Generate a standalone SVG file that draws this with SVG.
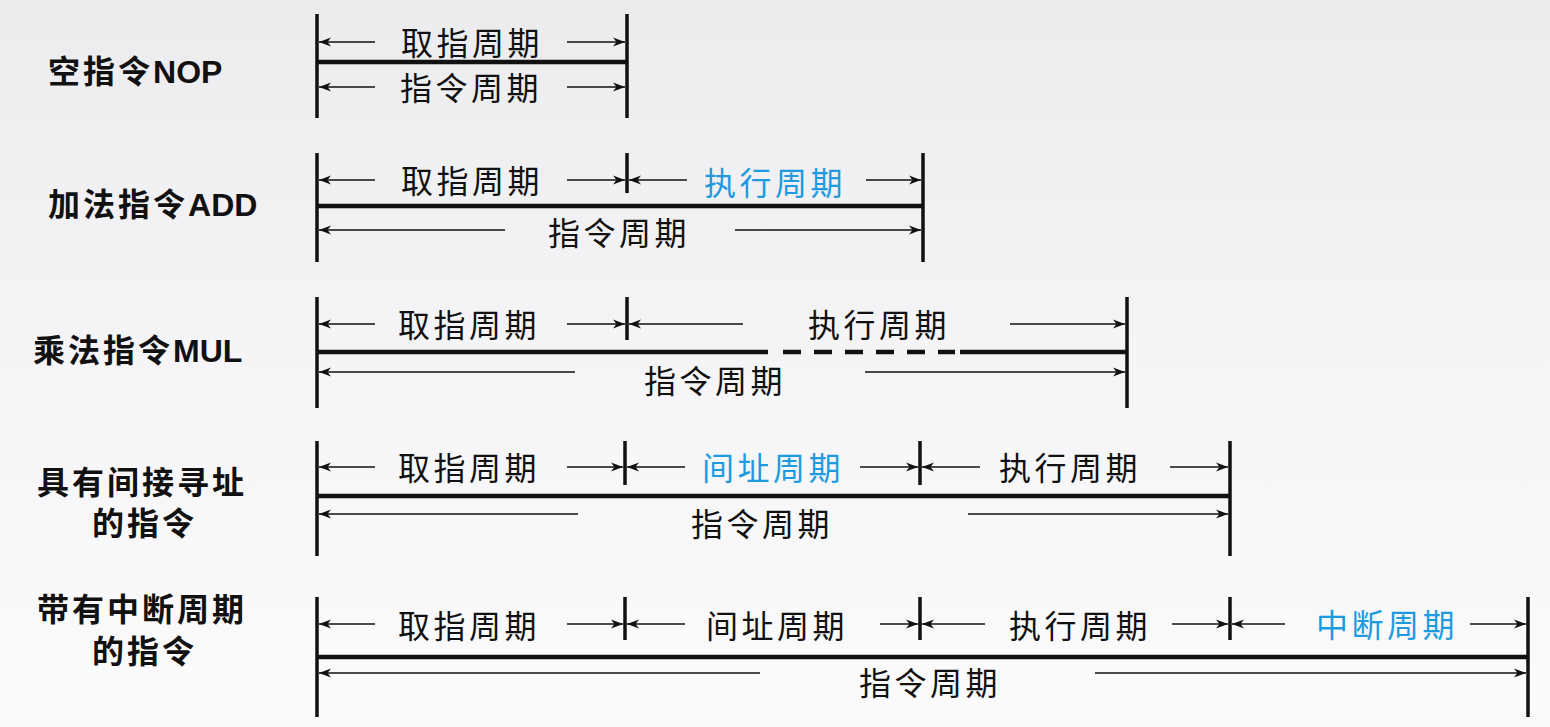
<svg xmlns="http://www.w3.org/2000/svg" width="1550" height="727" viewBox="0 0 1550 727">
<defs>
<linearGradient id="bg" x1="0" y1="0" x2="0" y2="1">
<stop offset="0" stop-color="#ececee"/>
<stop offset="0.5" stop-color="#f5f5f7"/>
<stop offset="1" stop-color="#fbfbfc"/>
</linearGradient>
<marker id="ah" viewBox="0 0 12 10" refX="12" refY="5" markerWidth="12" markerHeight="10" markerUnits="userSpaceOnUse" orient="auto">
<path d="M0,0.5 L12,5 L0,9.5 L3.5,5 z" fill="#111"/>
</marker>
<style>
.lbl{font-family:"Liberation Sans","Noto Sans CJK SC",sans-serif;font-weight:bold;font-size:32px;fill:#111;letter-spacing:3px}
.lat{letter-spacing:0}
.t{font-family:"Noto Sans CJK SC",sans-serif;font-size:32px;fill:#111;text-anchor:middle;dominant-baseline:central;letter-spacing:3.5px}
.b{fill:#1e9be0}
.tick{stroke:#111;stroke-width:3.5}
.bar{stroke:#111;stroke-width:4.5}
.dash{stroke:#111;stroke-width:4.5;stroke-dasharray:18,13}
.ar{stroke:#111;stroke-width:1.6;fill:none;marker-end:url(#ah)}
</style>
</defs>
<rect width="1550" height="727" fill="url(#bg)"/>

<g id="row-nop">
<text class="lbl" x="48" y="83">空指令<tspan class="lat">NOP</tspan></text>
<line class="tick" x1="317" y1="14" x2="317" y2="118"/>
<line class="tick" x1="627" y1="14" x2="627" y2="118"/>
<line class="bar" x1="317" y1="62" x2="627" y2="62"/>
<text class="t" x="472" y="41">取指周期</text>
<text class="t" x="471" y="86">指令周期</text>
</g>

<g id="row-add">
<text class="lbl" x="48" y="216">加法指令<tspan class="lat">ADD</tspan></text>
<line class="tick" x1="317" y1="153" x2="317" y2="262"/>
<line class="tick" x1="627" y1="153" x2="627" y2="193"/>
<line class="tick" x1="923" y1="153" x2="923" y2="262"/>
<line class="bar" x1="317" y1="206" x2="923" y2="206"/>
<text class="t" x="472" y="179">取指周期</text>
<text class="t b" x="775" y="181">执行周期</text>
<text class="t" x="619" y="231">指令周期</text>
</g>

<g id="row-mul">
<text class="lbl" x="33" y="362">乘法指令<tspan class="lat">MUL</tspan></text>
<line class="tick" x1="317" y1="297" x2="317" y2="408"/>
<line class="tick" x1="627" y1="297" x2="627" y2="340"/>
<line class="tick" x1="1127" y1="297" x2="1127" y2="408"/>
<line class="bar" x1="317" y1="352" x2="768" y2="352"/>
<line class="dash" x1="783" y1="352" x2="955" y2="352"/>
<line class="bar" x1="960" y1="352" x2="1127" y2="352"/>
<text class="t" x="469" y="323">取指周期</text>
<text class="t" x="879" y="323">执行周期</text>
<text class="t" x="715" y="379">指令周期</text>
</g>

<g id="row-indirect">
<text class="lbl" x="37" y="494">具有间接寻址</text>
<text class="lbl" x="92" y="535">的指令</text>
<line class="tick" x1="317" y1="441" x2="317" y2="556"/>
<line class="tick" x1="625" y1="441" x2="625" y2="485"/>
<line class="tick" x1="920" y1="441" x2="920" y2="485"/>
<line class="tick" x1="1230" y1="441" x2="1230" y2="556"/>
<line class="bar" x1="317" y1="496" x2="1230" y2="496"/>
<text class="t" x="469" y="466">取指周期</text>
<text class="t b" x="773" y="466">间址周期</text>
<text class="t" x="1070" y="466">执行周期</text>
<text class="t" x="762" y="522">指令周期</text>
</g>

<g id="row-interrupt">
<text class="lbl" x="37" y="621">带有中断周期</text>
<text class="lbl" x="92" y="663">的指令</text>
<line class="tick" x1="317" y1="597" x2="317" y2="717"/>
<line class="tick" x1="625" y1="597" x2="625" y2="640"/>
<line class="tick" x1="920" y1="597" x2="920" y2="640"/>
<line class="tick" x1="1230" y1="597" x2="1230" y2="640"/>
<line class="tick" x1="1528" y1="597" x2="1528" y2="717"/>
<line class="bar" x1="317" y1="657" x2="1528" y2="657"/>
<text class="t" x="469" y="624">取指周期</text>
<text class="t" x="777" y="624">间址周期</text>
<text class="t" x="1080" y="624">执行周期</text>
<text class="t b" x="1387" y="623">中断周期</text>
<text class="t" x="930" y="681">指令周期</text>
</g>

<g id="connectors">
<line class="ar" x1="375" y1="42" x2="319" y2="42"/>
<line class="ar" x1="567" y1="42" x2="625" y2="42"/>
<line class="ar" x1="375" y1="87" x2="319" y2="87"/>
<line class="ar" x1="567" y1="87" x2="625" y2="87"/>

<line class="ar" x1="375" y1="180" x2="319" y2="180"/>
<line class="ar" x1="567" y1="180" x2="625" y2="180"/>
<line class="ar" x1="687" y1="180" x2="629" y2="180"/>
<line class="ar" x1="866" y1="180" x2="921" y2="180"/>
<line class="ar" x1="505" y1="230" x2="319" y2="230"/>
<line class="ar" x1="735" y1="230" x2="921" y2="230"/>

<line class="ar" x1="375" y1="324" x2="319" y2="324"/>
<line class="ar" x1="567" y1="324" x2="625" y2="324"/>
<line class="ar" x1="743" y1="324" x2="629" y2="324"/>
<line class="ar" x1="1010" y1="324" x2="1125" y2="324"/>
<line class="ar" x1="575" y1="372" x2="319" y2="372"/>
<line class="ar" x1="865" y1="372" x2="1125" y2="372"/>

<line class="ar" x1="375" y1="467" x2="319" y2="467"/>
<line class="ar" x1="567" y1="467" x2="623" y2="467"/>
<line class="ar" x1="685" y1="467" x2="627" y2="467"/>
<line class="ar" x1="860" y1="467" x2="918" y2="467"/>
<line class="ar" x1="980" y1="467" x2="922" y2="467"/>
<line class="ar" x1="1170" y1="467" x2="1228" y2="467"/>
<line class="ar" x1="578" y1="514" x2="319" y2="514"/>
<line class="ar" x1="968" y1="514" x2="1228" y2="514"/>

<line class="ar" x1="375" y1="624" x2="319" y2="624"/>
<line class="ar" x1="567" y1="624" x2="623" y2="624"/>
<line class="ar" x1="685" y1="624" x2="627" y2="624"/>
<line class="ar" x1="880" y1="624" x2="918" y2="624"/>
<line class="ar" x1="985" y1="624" x2="922" y2="624"/>
<line class="ar" x1="1172" y1="624" x2="1228" y2="624"/>
<line class="ar" x1="1285" y1="624" x2="1232" y2="624"/>
<line class="ar" x1="1470" y1="624" x2="1526" y2="624"/>
<line class="ar" x1="760" y1="673" x2="319" y2="673"/>
<line class="ar" x1="1095" y1="673" x2="1526" y2="673"/>
</g>
</svg>
